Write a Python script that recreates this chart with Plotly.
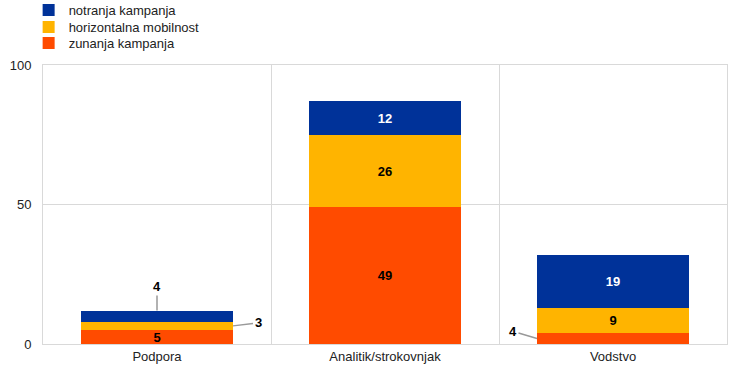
import plotly.graph_objects as go

categories = ["Podpora", "Analitik/strokovnjak", "Vodstvo"]
zunanja = [5, 49, 4]
horizontalna = [3, 26, 9]
notranja = [4, 12, 19]

series = [
    ("zunanja kampanja", zunanja, "#FF4B00", "black", "legend3"),
    ("horizontalna mobilnost", horizontalna, "#FFB400", "black", "legend2"),
    ("notranja kampanja", notranja, "#003299", "white", "legend"),
]

SMALL = 4.5  # segments smaller than this get an outside label

FONT = "Liberation Sans, Arial"
fig = go.Figure()
for name, vals, color, tcolor, leg in series:
    texts = [str(v) if v >= SMALL or (name == "zunanja kampanja" and i == 0) else "" for i, v in enumerate(vals)]
    fig.add_trace(go.Bar(
        x=categories, y=vals, name=name, marker_color=color,
        marker_line_width=0, legend=leg, showlegend=True,
        text=texts, textposition="inside", insidetextanchor="middle",
        constraintext="none", textangle=0,
        textfont=dict(family=FONT, size=13, color=tcolor, weight="bold"),
        hoverinfo="skip",
    ))

# outside labels with leader lines
lab_font = dict(family=FONT, size=13, color="black", weight="bold")
half = 1 / 3
fig.add_annotation(x=0, y=zunanja[0] + horizontalna[0] + notranja[0], xref="x", yref="y",
                   text=str(notranja[0]), showarrow=True, arrowhead=0, arrowwidth=1.5,
                   arrowcolor="#999999", ax=0, ay=-24, font=lab_font)
fig.add_annotation(x=0 + half, y=zunanja[0] + horizontalna[0] / 2, xref="x", yref="y",
                   text=str(horizontalna[0]), showarrow=True, arrowhead=0, arrowwidth=1.5,
                   arrowcolor="#999999", ax=25, ay=-3, font=lab_font)
fig.add_annotation(x=2 - half, y=zunanja[2] / 2, xref="x", yref="y",
                   text=str(zunanja[2]), showarrow=True, arrowhead=0, arrowwidth=1.5,
                   arrowcolor="#999999", ax=-24, ay=-7, font=lab_font)

leg_common = dict(x=-0.021, xanchor="left", yanchor="top", maxheight=60,
                  font=dict(family=FONT, size=13, color="#222222"),
                  bgcolor="rgba(0,0,0,0)", borderwidth=0)
# legend item centre sits ~14 px below the legend box top
fig.update_layout(
    width=746, height=371, showlegend=True,
    barmode="stack", bargap=1/3,
    margin=dict(l=43, r=19, t=65, b=27, autoexpand=False),
    paper_bgcolor="white", plot_bgcolor="white",
    font=dict(family=FONT, size=13, color="#222222"),
    legend=dict(y=1 + (65 + 5) / 279, **leg_common),
    legend2=dict(y=1 + (65 - 12) / 279, **leg_common),
    legend3=dict(y=1 + (65 - 28) / 279, **leg_common),
)
fig.update_xaxes(type="category", tickson="boundaries", showgrid=True, gridcolor="#d9d9d9",
                 gridwidth=1, showline=True, linecolor="#d9d9d9", mirror=True,
                 ticks="", ticklen=0, tickfont=dict(size=13))
fig.update_yaxes(range=[0, 100], tickvals=[0, 50, 100], showgrid=True, gridcolor="#d9d9d9",
                 showline=True, linecolor="#d9d9d9", mirror=True, zeroline=False,
                 ticks="", ticklabelstandoff=8, tickfont=dict(size=13))

fig.write_html("out.html", config={"displayModeBar": False},
               post_script="document.body.style.margin='0';")
